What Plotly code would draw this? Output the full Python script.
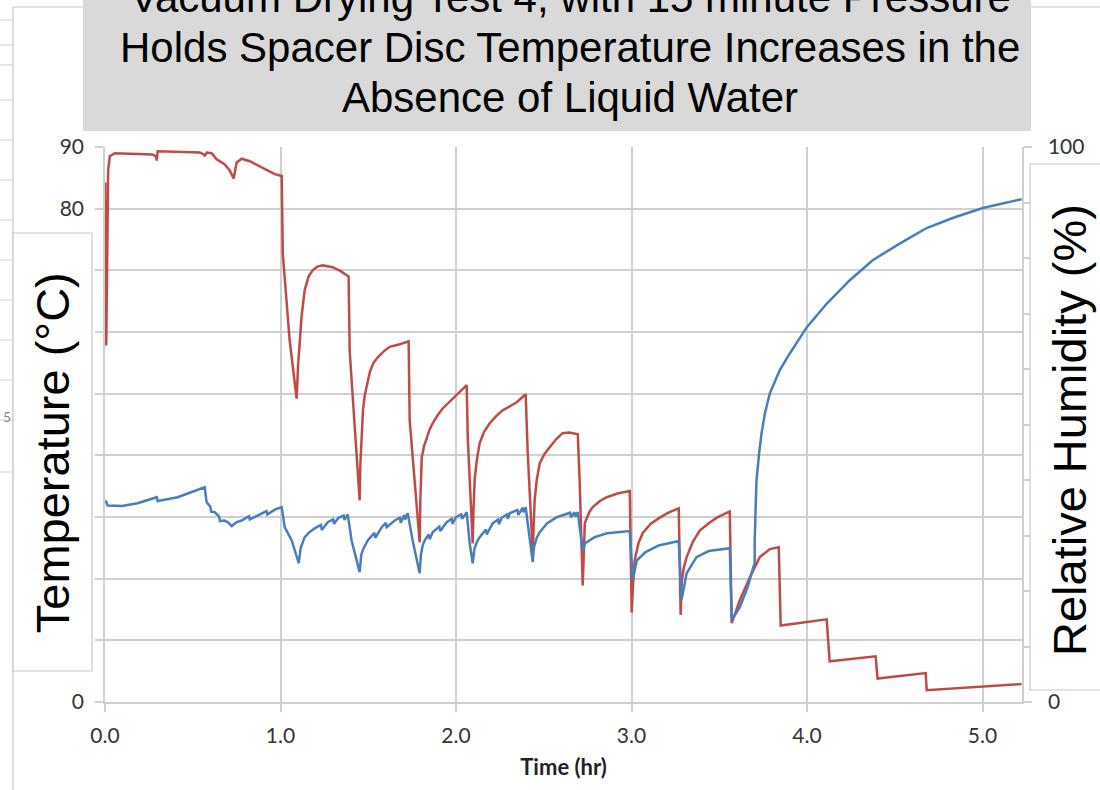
import plotly.graph_objects as go

# ---------------- data ----------------
title_lines = [
    "Vacuum Drying Test 4, with 15 minute Pressure",
    "Holds Spacer Disc Temperature Increases in the",
    "Absence of Liquid Water",
]

# Spacer disc temperature (left axis, deg C)
temp_hr = [0.001, 0.007, 0.018, 0.027, 0.055, 0.27, 0.289, 0.295, 0.30, 0.54, 0.563, 0.568, 0.58,
           0.608, 0.636, 0.681, 0.711, 0.733, 0.75, 0.779, 0.825, 0.899, 0.967, 1.007,
           1.013, 1.052, 1.092, 1.100, 1.109, 1.12, 1.138, 1.16, 1.183, 1.21, 1.24, 1.297, 1.34, 1.383, 1.388,
           1.394, 1.451, 1.455, 1.463, 1.47, 1.48, 1.495, 1.509, 1.53, 1.554, 1.59, 1.622, 1.679, 1.73,
           1.736, 1.793, 1.797, 1.805, 1.818, 1.833, 1.85, 1.867, 1.895, 1.924, 1.981, 2.02, 2.061,
           2.067, 2.095, 2.10, 2.107, 2.12, 2.135, 2.16, 2.192, 2.23, 2.266, 2.31, 2.346, 2.397,
           2.408, 2.437, 2.442, 2.448, 2.46, 2.477, 2.503, 2.533, 2.57, 2.607, 2.647, 2.694,
           2.705, 2.722, 2.728, 2.734, 2.745, 2.762, 2.779, 2.82, 2.859, 2.92, 2.99,
           3.001, 3.008, 3.018, 3.04, 3.064, 3.11, 3.161, 3.21, 3.269,
           3.28, 3.286, 3.298, 3.314, 3.35, 3.389, 3.44, 3.486, 3.56,
           3.571, 3.617, 3.674, 3.731, 3.788, 3.839,
           3.85, 4.112, 4.129, 4.391, 4.402, 4.676, 4.682, 5.223]
temp_c = [84.3, 57.8, 86.2, 88.5, 89.0, 88.8, 88.5, 87.8, 89.3, 89.1, 88.8, 88.5, 89.1,
          89.0, 88.0, 87.2, 86.2, 84.9, 87.5, 88.1, 87.7, 86.6, 85.6, 85.3,
          72.7, 58.7, 49.2, 54.5, 58.7, 62.5, 66.8, 69.0, 70.0, 70.6, 70.8, 70.5, 69.9, 69.2, 69.0,
          57.0, 32.7, 38.5, 44.1, 47.3, 49.7, 52.0, 53.5, 55.0, 55.9, 56.9, 57.6, 58.0, 58.5,
          45.7, 25.9, 33.0, 39.7, 41.5, 42.9, 44.2, 45.2, 46.5, 47.6, 49.2, 50.3, 51.4,
          42.9, 25.7, 31.5, 36.4, 39.5, 42.0, 43.8, 45.2, 46.4, 47.3, 48.0, 48.6, 49.9,
          40.8, 24.3, 29.0, 32.7, 36.0, 38.7, 40.2, 41.3, 42.6, 43.6, 43.7, 43.4,
          35.5, 18.9, 25.5, 29.0, 29.8, 30.9, 31.6, 32.6, 33.2, 33.8, 34.2,
          14.5, 18.6, 23.0, 25.8, 27.4, 28.9, 29.9, 30.7, 31.4,
          14.1, 19.5, 21.8, 23.5, 26.0, 27.8, 29.0, 29.9, 30.9,
          12.8, 16.5, 20.2, 23.5, 24.8, 25.1,
          12.4, 13.4, 6.6, 7.4, 3.8, 4.7, 1.9, 2.9]

# Relative humidity (right axis, %)
rh_hr = [0.004, 0.015, 0.095, 0.186, 0.295, 0.30, 0.414, 0.568,
         0.579, 0.60, 0.605, 0.625, 0.65, 0.655, 0.681, 0.70, 0.722, 0.75, 0.779, 0.82, 0.825, 0.87,
         0.92, 0.925, 0.97, 1.007,
         1.024, 1.064, 1.104, 1.115, 1.138, 1.165, 1.195, 1.23, 1.235, 1.269, 1.30, 1.305, 1.33,
         1.36, 1.365, 1.383,
         1.405, 1.451, 1.46, 1.47, 1.497, 1.535, 1.54, 1.577, 1.60, 1.605, 1.651, 1.68, 1.685, 1.705, 1.71, 1.725,
         1.753, 1.793, 1.80, 1.81, 1.821, 1.845, 1.85, 1.867, 1.905, 1.91, 1.947, 1.975, 1.98, 2.0, 2.03, 2.035, 2.061,
         2.078, 2.095, 2.105, 2.12, 2.135, 2.17, 2.175, 2.209, 2.24, 2.245, 2.26, 2.29, 2.295, 2.306, 2.35, 2.355,
         2.38, 2.385, 2.397,
         2.437, 2.445, 2.46, 2.477, 2.52, 2.574, 2.63, 2.65, 2.655, 2.675, 2.68, 2.694,
         2.722, 2.735, 2.79, 2.86, 2.99,
         3.007, 3.03, 3.08, 3.155, 3.269,
         3.286, 3.314, 3.37, 3.44, 3.56,
         3.571, 3.617, 3.662, 3.691, 3.702, 3.702, 3.712, 3.727, 3.741, 3.76, 3.788, 3.845,
         3.902, 3.998, 4.113, 4.244, 4.374, 4.528, 4.682, 4.83, 5.001, 5.223]
rh_pct = [36.3, 35.4, 35.3, 35.8, 36.9, 36.2, 36.9, 38.7,
          36.0, 35.2, 34.3, 34.2, 33.4, 32.6, 32.7, 32.4, 31.7, 32.4, 32.7, 33.5, 32.9, 33.6,
          34.4, 33.8, 34.7, 35.1,
          31.5, 29.1, 25.0, 27.8, 29.7, 30.6, 31.3, 31.9, 31.0, 32.4, 32.9, 32.1, 33.2,
          33.6, 32.8, 33.8,
          29.1, 23.4, 26.5, 27.5, 29.1, 30.5, 29.6, 31.5, 32.3, 31.5, 32.7, 33.2, 32.3, 33.7, 32.9, 34.0,
          29.1, 23.2, 26.5, 28.2, 29.1, 30.2, 29.3, 30.6, 31.6, 30.8, 32.4, 33.0, 32.1, 33.3, 33.8, 33.0, 34.2,
          28.6, 25.0, 27.6, 28.9, 29.7, 31.1, 30.2, 32.2, 32.9, 32.0, 33.2, 33.8, 33.0, 34.0, 34.6, 33.7,
          35.0, 34.2, 35.1,
          25.2, 28.0, 29.6, 30.6, 32.2, 33.3, 33.9, 34.1, 33.3, 34.2, 33.4, 34.2,
          27.3, 28.6, 29.7, 30.4, 30.8,
          22.0, 25.5, 27.0, 28.2, 29.0,
          18.5, 23.2, 26.1, 27.2, 27.7,
          14.7, 17.1, 20.7, 24.0, 25.0, 29.1, 39.9, 44.8, 48.4, 52.0, 55.6, 59.8,
          62.8, 67.5, 71.8, 76.0, 79.6, 82.6, 85.4, 87.2, 89.0, 90.6]

x_tickvals = [0, 1, 2, 3, 4, 5]
x_ticktext = ["0.0", "1.0", "2.0", "3.0", "4.0", "5.0"]
y_tickvals = [0, 10, 20, 30, 40, 50, 60, 70, 80, 90]
y_ticktext = ["0", "", "", "", "", "", "", "", "80", "90"]
y2_tickvals = [0, 10, 20, 30, 40, 50, 60, 70, 80, 90, 100]
y2_ticktext = ["0", "", "", "", "", "", "", "", "", "", "100"]

# ---------------- figure ----------------
W, H = 1100, 790
ML, MR, MT, MB = 105, 78, 147, 88
PW, PH = W - ML - MR, H - MT - MB


def px(xp):
    return (xp - ML) / PW


def py(yp):
    return (H - MB - yp) / PH


GRID = "#d0d0d0"
TICKFONT = dict(family="Lato, Open Sans, sans-serif", size=21, color="#333333")

fig = go.Figure()
fig.add_trace(go.Scatter(x=temp_hr, y=temp_c, mode="lines",
                         line=dict(color="#BE4B48", width=2.5), yaxis="y",
                         hoverinfo="skip"))
fig.add_trace(go.Scatter(x=rh_hr, y=rh_pct, mode="lines",
                         line=dict(color="#4A7EBB", width=2.5), yaxis="y2",
                         hoverinfo="skip"))

shapes = []
# background spreadsheet lines at far left
for yy in [20, 45, 65, 100, 140, 180, 220, 260, 300, 340, 380, 420, 472]:
    shapes.append(dict(type="line", xref="paper", yref="paper",
                       x0=px(0), x1=px(13), y0=py(yy), y1=py(yy),
                       line=dict(color="#dedede", width=1.5), layer="above"))
# chart frame
shapes.append(dict(type="line", xref="paper", yref="paper", x0=px(13), x1=px(13),
                   y0=py(7), y1=py(800), line=dict(color="#c8c8c8", width=1.2), layer="above"))
shapes.append(dict(type="line", xref="paper", yref="paper", x0=px(13), x1=px(1110),
                   y0=py(7), y1=py(7), line=dict(color="#c8c8c8", width=1.2), layer="above"))
# title box
shapes.append(dict(type="rect", xref="paper", yref="paper", x0=px(83), x1=px(1031),
                   y0=py(131), y1=py(-20), fillcolor="#d9d9d9",
                   line=dict(width=0), layer="above"))
# axis title boxes
shapes.append(dict(type="rect", xref="paper", yref="paper", x0=px(13), x1=px(92),
                   y0=py(671), y1=py(233), fillcolor="white",
                   line=dict(color="#c8c8c8", width=1.2), layer="above"))
shapes.append(dict(type="rect", xref="paper", yref="paper", x0=px(1030), x1=px(1120),
                   y0=py(690), y1=py(164), fillcolor="white",
                   line=dict(color="#c8c8c8", width=1.2), layer="above"))

TITLEFONT = dict(family="Liberation Sans, Arial, sans-serif", size=42, color="black")
annotations = []
for txt, base in zip(title_lines, [11.7, 61.7, 111.7]):
    annotations.append(dict(text=txt, xref="paper", yref="paper", x=px(570),
                            y=py(base - 14.55), xanchor="center", yanchor="middle",
                            showarrow=False, font=TITLEFONT))
AXFONT = dict(family="Liberation Sans, Arial, sans-serif", size=47, color="black")
annotations.append(dict(text="Temperature (°C)", xref="paper", yref="paper",
                        x=px(52.7), y=py(452.5), textangle=-90, xanchor="center",
                        yanchor="middle", showarrow=False, font=AXFONT))
annotations.append(dict(text="Relative Humidity (%)", xref="paper", yref="paper",
                        x=px(1069), y=py(430), textangle=-90, xanchor="center",
                        yanchor="middle", showarrow=False, font=AXFONT))
annotations.append(dict(text="5", xref="paper", yref="paper", x=px(1), y=py(416),
                        xanchor="left", yanchor="middle", showarrow=False,
                        font=dict(family="Lato, sans-serif", size=14, color="#888888")))

fig.update_layout(
    width=W, height=H,
    margin=dict(l=ML, r=MR, t=MT, b=MB, pad=0),
    paper_bgcolor="white", plot_bgcolor="white",
    showlegend=False,
    xaxis=dict(range=[0, 5.225], tickvals=x_tickvals, ticktext=x_ticktext,
               showgrid=True, gridcolor=GRID, gridwidth=1.5,
               ticks="outside", ticklen=8, tickcolor=GRID, tickwidth=1.5,
               showline=True, linecolor=GRID, linewidth=1.5, zeroline=False,
               tickfont=TICKFONT, ticklabelstandoff=6,
               title=dict(text="Time (hr)", standoff=14,
                          font=dict(family="Lato, Open Sans, sans-serif", size=22,
                                    color="#222222", weight="bold"))),
    yaxis=dict(range=[0, 90], tickvals=y_tickvals, ticktext=y_ticktext,
               showgrid=True, gridcolor=GRID, gridwidth=1.5,
               ticks="outside", ticklen=8, tickcolor=GRID, tickwidth=1.5,
               showline=True, linecolor=GRID, linewidth=1.5, zeroline=False,
               tickfont=TICKFONT, ticklabelstandoff=7),
    yaxis2=dict(range=[0, 100], tickvals=y2_tickvals, ticktext=y2_ticktext,
                overlaying="y", side="right", showgrid=False,
                ticks="outside", ticklen=8, tickcolor=GRID, tickwidth=1.5,
                showline=True, linecolor=GRID, linewidth=1.5, zeroline=False,
                tickfont=TICKFONT, ticklabelstandoff=12),
    shapes=shapes,
    annotations=annotations,
)

fig.write_html("out.html")
